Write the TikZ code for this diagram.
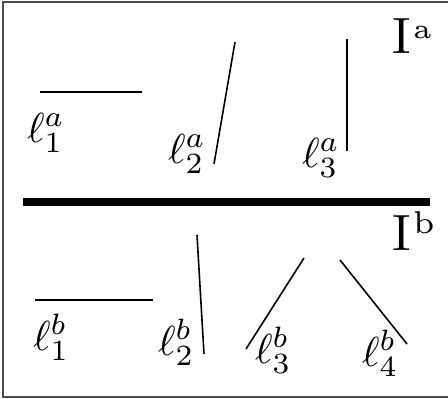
\documentclass[tikz,border=0pt]{standalone}
\usepackage{amsmath}
\begin{document}
\begin{tikzpicture}[x=1pt,y=-1pt,
  seg/.style={line width=1.6pt,black},
  lab/.style={anchor=base west,inner sep=0pt},
  ilab/.style={anchor=base west,inner sep=0pt}]
\useasboundingbox (0,0) rectangle (448,399);
\draw[line width=2pt,black!70] (460,2) -- (3,2) -- (3,397) -- (460,397);
\draw[line width=8pt] (23,202) coordinate (sa) -- (430,202) coordinate (sb);
% top
\node[ilab] (Ia) at (392,53) {\scalebox{5.1}{I\kern0.5pt\raisebox{2.9pt}{\fontsize{5.4}{6}\selectfont a}}};
\coordinate (a1s) at (40,92); \coordinate (a1e) at (142,92);
\coordinate (a2s) at (214,164); \coordinate (a2e) at (235,42);
\coordinate (a3s) at (347,151); \coordinate (a3e) at (347,39);
\draw[seg] (a1s) -- (a1e);
\draw[seg] (a2s) -- (a2e);
\draw[seg] (a3s) -- (a3e);
\node[lab] (la1) at (27,142) {\scalebox{4.2}{$\ell_1^a$}};
\node[lab] (la2) at (168,163) {\scalebox{4.2}{$\ell_2^a$}};
\node[lab] (la3) at (302,167) {\scalebox{4.2}{$\ell_3^a$}};
% bottom
\node[ilab] (Ib) at (392,250) {\scalebox{5.1}{I\kern0.5pt\raisebox{3.3pt}{\fontsize{6.2}{7}\selectfont b}}};
\coordinate (b1s) at (35,300); \coordinate (b1e) at (153,300);
\coordinate (b2s) at (204,354); \coordinate (b2e) at (197,235);
\coordinate (b3s) at (246,349); \coordinate (b3e) at (304,258);
\coordinate (b4s) at (407,344); \coordinate (b4e) at (340,260);
\draw[seg] (b1s) -- (b1e);
\draw[seg] (b2s) -- (b2e);
\draw[seg] (b3s) -- (b3e);
\draw[seg] (b4s) -- (b4e);
\node[lab] (lb1) at (33,350) {\scalebox{4.2}{$\ell_1^b$}};
\node[lab] (lb2) at (158,355) {\scalebox{4.2}{$\ell_2^b$}};
\node[lab] (lb3) at (255,363) {\scalebox{4.2}{$\ell_3^b$}};
\node[lab] (lb4) at (362,366) {\scalebox{4.2}{$\ell_4^b$}};
\end{tikzpicture}
\end{document}
